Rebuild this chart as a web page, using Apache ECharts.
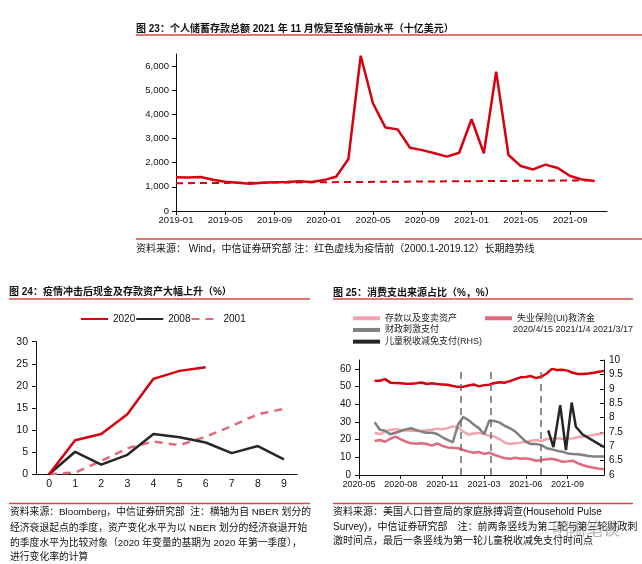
<!DOCTYPE html>
<html><head><meta charset="utf-8">
<script src="https://cdn.jsdelivr.net/npm/echarts@6/dist/echarts.min.js"></script>
<style>html,body{margin:0;padding:0;background:#fff}#c{width:642px;height:564px}</style>
</head><body><div id="c"></div>
<script>
// ---------- Fig 23: personal saving (billion USD), monthly ----------
const months23 = [];
for (let y = 2019; y <= 2021; y++) for (let m = 1; m <= 12; m++) months23.push(y + '-' + String(m).padStart(2, '0'));
const savings23 = [1400,1390,1410,1290,1210,1170,1130,1170,1190,1200,1230,1200,
  1280,1420,2150,6430,4450,3460,3380,2620,2520,2390,2250,2410,
  3800,2390,5770,2320,1860,1720,1920,1780,1450,1300,1240];
const trendStart23 = 1150, trendEnd23 = 1270;

// ---------- Fig 24: cash & deposits change by quarter since recession start (%) ----------
const quarters24 = ['0','1','2','3','4','5','6','7','8','9'];
const s2020 = [0,7.7,9.1,13.6,21.6,23.4,24.2];
const s2008 = [0,5.1,2.2,4.4,9.1,8.4,7.2,4.8,6.4,3.4];
const s2001 = [0,0.4,3.0,5.9,7.4,6.6,8.5,10.9,13.6,14.8];

// ---------- Fig 25: sources used for spending (%), survey periods ----------
const xLabels25 = ['2020-05','2020-08','2020-11','2021-03','2021-06','2021-09'];
const start25 = 3;
const regular25 = [53.3,53.3,54.2,52.2,52.0,51.8,51.6,51.6,51.8,52.3,51.4,51.8,51.4,51.2,51.0,50.3,49.8,49.9,50.6,51.2,50.1,50.8,51.0,52.0,52.4,52.2,53.1,54.2,55.2,55.4,55.9,54.8,55.6,57.4,60.0,59.3,59.5,59.0,57.8,57.1,57.1,57.4,57.8,58.4,58.8];
const savingsAssets25 = [23.9,23.0,24.5,25.6,25.8,25.6,25.2,25.0,24.8,25.0,25.3,25.6,26.2,25.8,26.5,27.5,26.8,24.5,22.8,23.5,23.8,23.2,22.0,21.7,20.2,18.3,17.5,17.9,18.3,18.8,19.4,19.8,19.2,20.2,20.7,20.7,20.5,20.5,20.7,21.3,21.7,22.0,22.6,23.2,23.6];
const ui25 = [19.2,19.8,18.8,20.5,21.7,20.2,18.8,17.9,17.6,17.9,17.5,16.6,17.9,16.4,15.6,15.4,15.1,14.1,13.2,12.6,13.0,11.9,12.6,11.3,10.4,9.4,9.2,9.8,9.2,9.4,8.9,8.1,8.5,8.9,9.2,8.5,7.5,7.7,8.1,6.6,5.5,4.7,4.1,3.6,3.2];
const stimulus25 = [29.8,25.6,25.0,23.0,23.9,24.9,25.8,26.4,25.4,24.5,23.9,23.9,23.2,21.3,19.8,18.5,28.5,32.8,31.0,28.5,26.5,23.0,30.8,30.5,29.6,27.7,26.4,24.5,21.7,18.8,17.5,17.5,16.9,15.1,14.5,13.7,13.2,12.2,11.9,11.7,11.3,10.7,10.4,10.4,10.4];
const ctcIdx25 = [36.3,37.3,38.6,39.7,40.8,41.6,42.9,47];
const ctc25 = [7.55,6.97,8.43,6.87,8.52,7.68,7.41,6.97];
const vlines25 = [19.5,25.3,34.9];

const FONT = '"Liberation Sans","Noto Sans CJK SC",sans-serif';
const RED = '#d7000f', PINK_D = '#e0697b', PINK_L = '#f3a5ae', GRAY = '#808080', BLACK = '#262626';
const RULE = '#d9464c';

const chart = echarts.init(document.getElementById('c'), null, {renderer: 'canvas'});
const idx = (arr, s) => arr.map((v, i) => [i + s, v]);
const trend23 = savings23.map((v, i) => i === 0 ? trendStart23 : (i === savings23.length - 1 ? trendEnd23 : null));

function txt(x, y, s, size, extra) {
  return Object.assign({type: 'text', x: x, y: y, silent: true,
    style: Object.assign({text: s, fontSize: size, fontFamily: FONT, fill: '#111', verticalAlign: 'middle'}, extra || {})});
}
function rule(x1, x2, y) {
  return {type: 'line', silent: true, shape: {x1: x1, y1: y, x2: x2, y2: y}, style: {stroke: RULE, lineWidth: 1.5}};
}

const axisLbl = (size) => ({color: '#111', fontSize: size, fontFamily: FONT});
const axLine = {show: true, lineStyle: {color: '#111', width: 1}};

const option = {
  animation: false,
  backgroundColor: '#fff',
  textStyle: {fontFamily: FONT},
  grid: [
    {left: 176, right: 35, top: 54, height: 157},
    {left: 36, right: 345, top: 341.7, height: 132.6},
    {left: 359, right: 38, top: 360, height: 115}
  ],
  legend: [
    {data: ['2020','2008','2001'], left: 80, top: 314, padding: 0, itemWidth: 27, itemHeight: 10, itemGap: 0,
     itemStyle: {opacity: 0},
     textStyle: {fontSize: 10, color: '#111', fontFamily: FONT}},
    {data: ['存款以及变卖资产','财政刺激支付','儿童税收减免支付(RHS)'], orient: 'vertical', left: 353, top: 313, padding: 0,
     itemWidth: 27, itemHeight: 4, itemGap: 1.2, icon: 'rect',
     textStyle: {fontSize: 9, lineHeight: 10.5, color: '#222', fontFamily: FONT}},
    {data: ['失业保险(UI)救济金'], left: 485, top: 313, padding: 0, itemWidth: 27, itemHeight: 4, icon: 'rect',
     textStyle: {fontSize: 9, lineHeight: 10.5, color: '#222', fontFamily: FONT}}
  ],
  xAxis: [
    {gridIndex: 0, type: 'category', data: months23, boundaryGap: false, axisLine: axLine,
     axisTick: {show: true, interval: 3, length: 4, lineStyle: {color: '#111'}},
     axisLabel: Object.assign(axisLbl(9.5), {interval: 3, margin: 5}), splitLine: {show: false}},
    {gridIndex: 1, type: 'category', data: quarters24, boundaryGap: true, axisLine: axLine,
     axisTick: {show: false}, axisLabel: Object.assign(axisLbl(10.5), {margin: 5}), splitLine: {show: false}},
    {gridIndex: 2, type: 'value', min: 0, max: 47, interval: 8, axisLine: axLine,
     axisTick: {show: true, length: 4, lineStyle: {color: '#111'}},
     axisLabel: Object.assign(axisLbl(9), {margin: 5, showMaxLabel: false,
       formatter: v => (v % 8 === 0 && xLabels25[v / 8]) ? xLabels25[v / 8] : ''}),
     splitLine: {show: false}}
  ],
  yAxis: [
    {gridIndex: 0, type: 'value', min: 0, max: 6500, interval: 1000, axisLine: axLine,
     axisTick: {show: true, length: 4, lineStyle: {color: '#111'}},
     axisLabel: Object.assign(axisLbl(9.5), {showMaxLabel: false, margin: 7,
       formatter: v => v.toLocaleString('en-US')}), splitLine: {show: false}},
    {gridIndex: 1, type: 'value', min: 0, max: 30, interval: 5, axisLine: axLine,
     axisTick: {show: true, length: 4, lineStyle: {color: '#111'}},
     axisLabel: Object.assign(axisLbl(10.5), {margin: 8}), splitLine: {show: false}},
    {gridIndex: 2, type: 'value', min: 0, max: 65, interval: 10, axisLine: axLine,
     axisTick: {show: true, length: 4, lineStyle: {color: '#111'}},
     axisLabel: Object.assign(axisLbl(10), {showMaxLabel: false, margin: 8}), splitLine: {show: false}},
    {gridIndex: 2, type: 'value', position: 'right', min: 6, max: 10, interval: 0.5, axisLine: axLine,
     axisTick: {show: true, inside: true, length: 4, lineStyle: {color: '#111'}},
     axisLabel: Object.assign(axisLbl(10), {margin: 5}), splitLine: {show: false}}
  ],
  series: [
    {name: '储蓄', type: 'line', xAxisIndex: 0, yAxisIndex: 0, data: savings23, symbol: 'none',
     lineStyle: {color: RED, width: 2.5}, z: 3},
    {name: '趋势', type: 'line', xAxisIndex: 0, yAxisIndex: 0, data: trend23, connectNulls: true, symbol: 'none',
     lineStyle: {color: RED, width: 2, type: [7, 5]}, z: 2},

    {name: '2020', type: 'line', xAxisIndex: 1, yAxisIndex: 1, data: s2020, symbol: 'none',
     color: RED, lineStyle: {color: RED, width: 2.5}, z: 4},
    {name: '2008', type: 'line', xAxisIndex: 1, yAxisIndex: 1, data: s2008, symbol: 'none',
     color: BLACK, lineStyle: {color: BLACK, width: 2.5}, z: 3},
    {name: '2001', type: 'line', xAxisIndex: 1, yAxisIndex: 1, data: s2001, symbol: 'none',
     color: PINK_D, lineStyle: {color: PINK_D, width: 2.5, type: [8, 6]}, z: 2},

    {name: '常规收入', type: 'line', xAxisIndex: 2, yAxisIndex: 2, data: idx(regular25, start25), symbol: 'none',
     color: RED, lineStyle: {color: RED, width: 2.5}, z: 3,
     markLine: {silent: true, symbol: 'none', label: {show: false},
       lineStyle: {color: '#6b6b6b', width: 1.5, type: [7, 5]},
       data: vlines25.map(v => [{coord: [v, 0]}, {coord: [v, 60]}])}},
    {name: '存款以及变卖资产', type: 'line', xAxisIndex: 2, yAxisIndex: 2, data: idx(savingsAssets25, start25), symbol: 'none',
     color: PINK_L, lineStyle: {color: PINK_L, width: 2.5}, z: 2},
    {name: '失业保险(UI)救济金', type: 'line', xAxisIndex: 2, yAxisIndex: 2, data: idx(ui25, start25), symbol: 'none',
     color: PINK_D, lineStyle: {color: PINK_D, width: 2.5}, z: 2},
    {name: '财政刺激支付', type: 'line', xAxisIndex: 2, yAxisIndex: 2, data: idx(stimulus25, start25), symbol: 'none',
     color: GRAY, lineStyle: {color: GRAY, width: 2.5}, z: 3},
    {name: '儿童税收减免支付(RHS)', type: 'line', xAxisIndex: 2, yAxisIndex: 3,
     data: ctcIdx25.map((x, i) => [x, ctc25[i]]), symbol: 'none',
     color: BLACK, lineStyle: {color: BLACK, width: 2.5}, z: 4}
  ],
  graphic: [
    txt(136, 29, '图 23：个人储蓄存款总额 2021 年 11 月恢复至疫情前水平（十亿美元）', 10, {fontWeight: 'bold'}),
    rule(136, 642, 35),
    rule(136, 642, 239),
    txt(136, 249, '资料来源： Wind，中信证券研究部 注：红色虚线为疫情前（2000.1-2019.12）长期趋势线', 10),

    txt(9, 292.5, '图 24：疫情冲击后现金及存款资产大幅上升（%）', 10, {fontWeight: 'bold'}),
    rule(9, 310, 299),
    rule(9, 310, 503.5),
    txt(10, 512.7, '资料来源：Bloomberg，中信证券研究部  注：横轴为自 NBER 划分的', 9.8),
    txt(10, 528.3, '经济衰退起点的季度，资产变化水平为以 NBER 划分的经济衰退开始', 9.8),
    txt(10, 543.3, '的季度水平为比较对象（2020 年变量的基期为 2020 年第一季度），', 9.8),
    txt(10, 557.3, '进行变化率的计算', 9.8),

    txt(333, 293, '图 25：消费支出来源占比（%，%）', 10, {fontWeight: 'bold'}),
    rule(333, 633, 299),
    txt(513, 330, '2020/4/15 2021/1/4 2021/3/17', 9, {fill: '#222'}),
    rule(333, 633, 503.5),
    txt(333, 512.7, '资料来源：美国人口普查局的家庭脉搏调查(Household Pulse', 10),
    txt(333, 527.3, 'Survey)，中信证券研究部　注：前两条竖线为第二轮与第三轮财政刺', 10),
    txt(333, 541.7, '激时间点，最后一条竖线为第一轮儿童税收减免支付时间点', 10),
    txt(552, 530, '明晰笔谈', 17, {fill: 'rgba(110,110,110,0.5)'})
  ]
};
chart.setOption(option);
</script></body></html>
